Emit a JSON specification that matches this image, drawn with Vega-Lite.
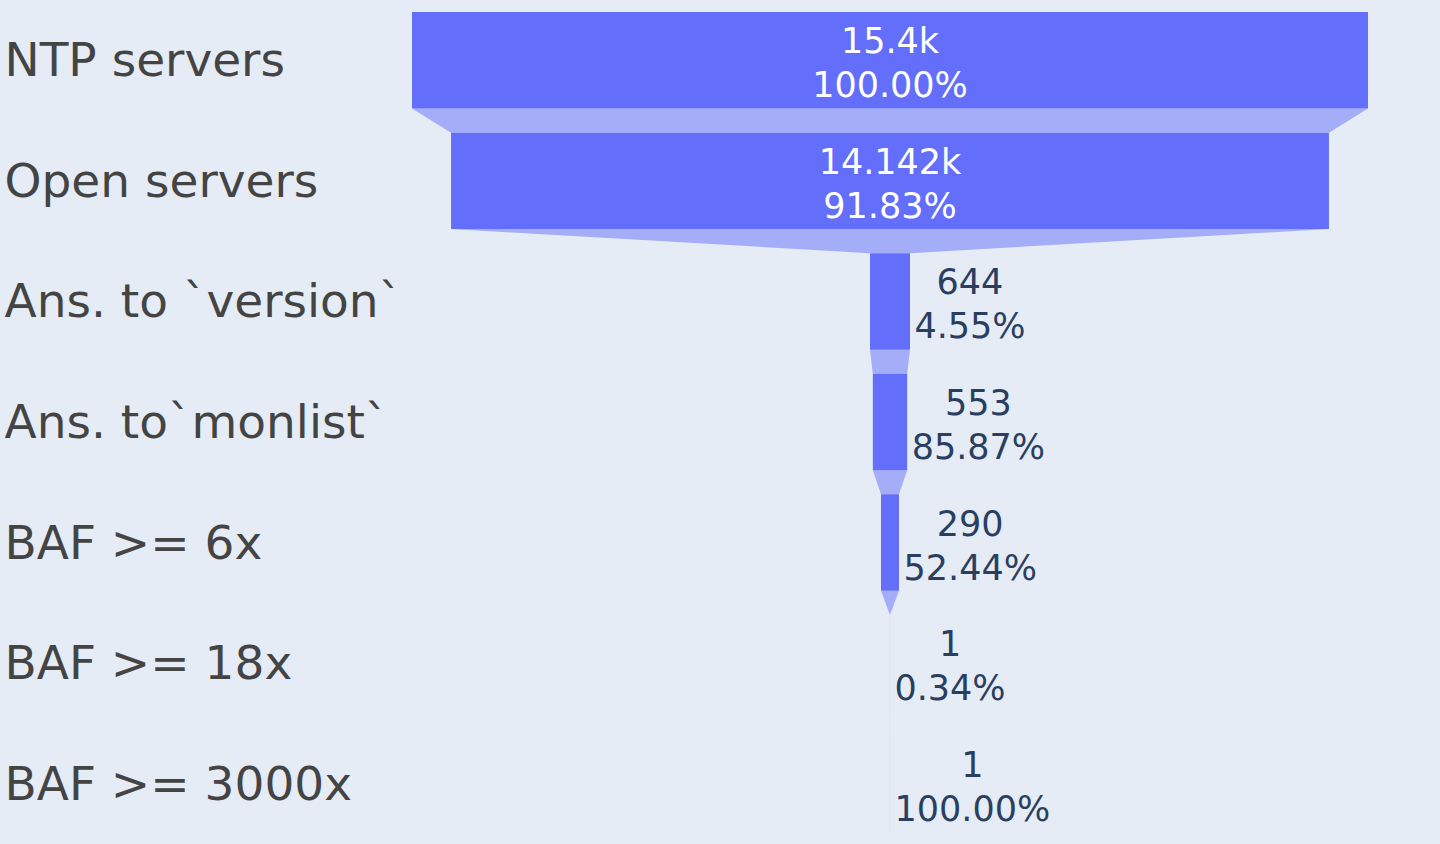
{
  "$schema": "https://vega.github.io/schema/vega-lite/v6.json",
  "width": 1440,
  "height": 844,
  "autosize": {"type": "none"},
  "padding": 0,
  "background": "#E5ECF6",
  "config": {"view": {"stroke": null, "fill": "#E5ECF6"}},
  "data": {
    "values": [
      {"stage": "NTP servers", "value": 15400, "valueLabel": "15.4k", "pct": "100.00%"},
      {"stage": "Open servers", "value": 14142, "valueLabel": "14.142k", "pct": "91.83%"},
      {"stage": "Ans. to `version`", "value": 644, "valueLabel": "644", "pct": "4.55%"},
      {"stage": "Ans. to`monlist`", "value": 553, "valueLabel": "553", "pct": "85.87%"},
      {"stage": "BAF >= 6x", "value": 290, "valueLabel": "290", "pct": "52.44%"},
      {"stage": "BAF >= 18x", "value": 1, "valueLabel": "1", "pct": "0.34%"},
      {"stage": "BAF >= 3000x", "value": 1, "valueLabel": "1", "pct": "100.00%"}
    ]
  },
  "layer": [
    {
      "transform": [
        {"window": [{"op": "row_number", "as": "idx"}, {"op": "lead", "field": "value", "as": "next"}]},
        {"filter": "datum.next != null"},
        {"fold": ["value", "next"], "as": ["key", "w"]},
        {"calculate": "datum.key == 'value' ? datum.idx - 0.1 : datum.idx + 0.1", "as": "cy"},
        {"calculate": "-datum.w / 2", "as": "cl"},
        {"calculate": "datum.w / 2", "as": "cr"}
      ],
      "mark": {"type": "area", "orient": "horizontal", "color": "#A4ADF8", "opacity": 1, "interpolate": "linear"},
      "encoding": {
        "y": {"field": "cy", "type": "quantitative", "scale": {"domain": [0, 7], "range": [0, 844], "nice": false, "zero": false}, "axis": null},
        "x": {"field": "cl", "type": "quantitative", "scale": {"domain": [-14337, 8860], "nice": false, "zero": false}, "axis": null},
        "x2": {"field": "cr"},
        "detail": {"field": "idx", "type": "quantitative"}
      }
    },
    {
      "transform": [
        {"calculate": "-datum.value / 2", "as": "bl"},
        {"calculate": "datum.value / 2", "as": "br"}
      ],
      "mark": {"type": "bar", "color": "#636EFA"},
      "encoding": {
        "y": {
          "field": "stage", "type": "nominal", "sort": null,
          "scale": {"paddingInner": 0.2, "paddingOuter": 0.1},
          "axis": {
            "title": null, "domain": false, "ticks": false, "tickSize": 0, "grid": false,
            "labelAlign": "left", "labelPadding": -4, "labelLimit": 2000, "labelOffset": 2,
            "labelFont": "DejaVu Sans", "labelFontSize": 47, "labelColor": "#444444"
          }
        },
        "x": {"field": "bl", "type": "quantitative", "scale": {"domain": [-14337, 8860], "nice": false, "zero": false}, "axis": null},
        "x2": {"field": "br"}
      }
    },
    {
      "transform": [
        {"calculate": "datum.valueLabel + '\\n' + datum.pct", "as": "label"},
        {"calculate": "datum.value > 5000 ? 0 : datum.value / 2 + (4 + 11.2 * length(datum.pct)) * 16.109", "as": "lx"}
      ],
      "mark": {"type": "text", "font": "DejaVu Sans", "fontSize": 35, "lineBreak": "\n", "lineHeight": 44, "align": "center", "baseline": "middle", "dy": -18},
      "encoding": {
        "y": {"field": "stage", "type": "nominal", "sort": null, "axis": null},
        "x": {"field": "lx", "type": "quantitative", "scale": {"domain": [-14337, 8860], "nice": false, "zero": false}, "axis": null},
        "text": {"field": "label"},
        "color": {
          "condition": {"test": "datum.value > 5000", "value": "#FFFFFF"},
          "value": "#2A3F5F"
        }
      }
    }
  ],
  "resolve": {"scale": {"y": "independent"}}
}
